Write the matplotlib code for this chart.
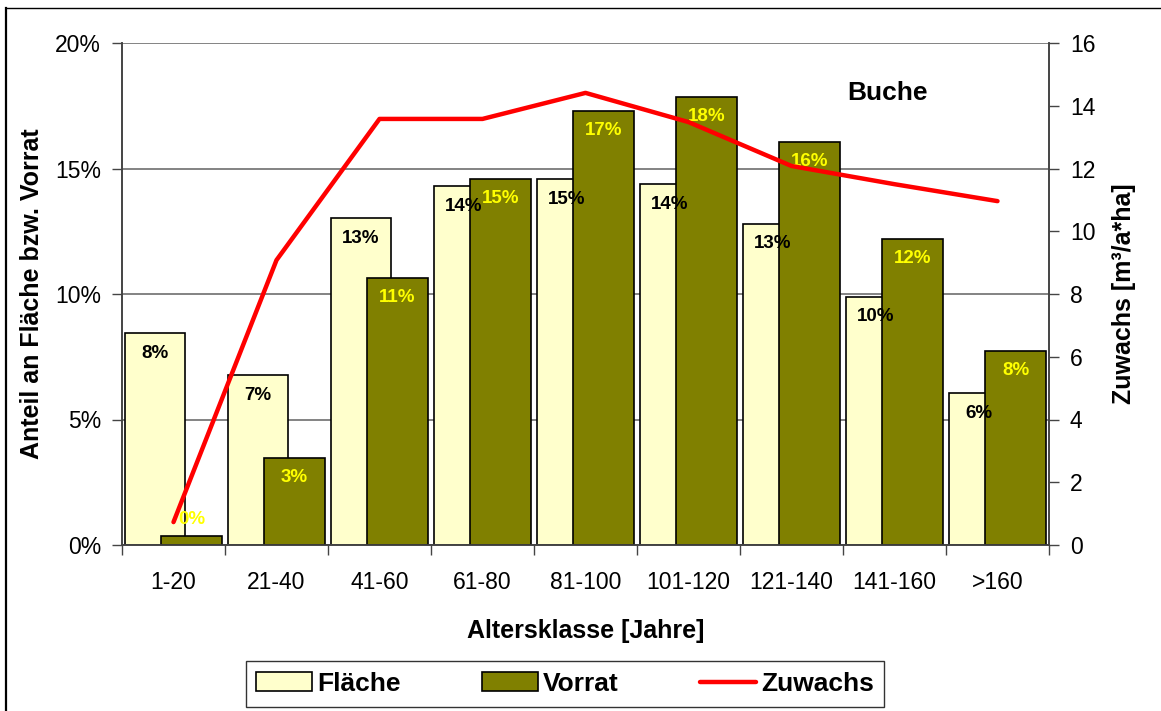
import matplotlib
matplotlib.use("Agg")
import matplotlib.pyplot as plt
import matplotlib.ticker as mticker
from matplotlib.lines import Line2D
import numpy as np

plt.rcParams["font.family"] = ["Liberation Sans", "DejaVu Sans"]

# ── Data ────────────────────────────────────────────────────────────────────
klassen = ["1-20", "21-40", "41-60", "61-80", "81-100",
           "101-120", "121-140", "141-160", ">160"]
flaeche = [8.45, 6.77, 13.03, 14.3, 14.58, 14.38, 12.8, 9.9, 6.06]      # %
vorrat = [0.36, 3.45, 10.64, 14.58, 17.29, 17.85, 16.06, 12.2, 7.73]    # %
zuwachs = [0.73, 9.08, 13.58, 13.58, 14.41, 13.48, 12.08, 11.5, 10.96]  # m3/a*ha

C_FL = "#FFFFCC"
C_VO = "#808000"
C_ZU = "#FF0000"

# ── Figure ──────────────────────────────────────────────────────────────────
W, H = 1161, 711
fig = plt.figure(figsize=(W / 100, H / 100), dpi=100)
ax = fig.add_axes([122 / W, (H - 545) / H, 927 / W, 502 / H])
ax2 = ax.twinx()

x = np.arange(len(klassen))
bw = 0.585
b1 = ax.bar(x - 0.18, flaeche, bw, color=C_FL, edgecolor="black", linewidth=1.2, zorder=2)
b2 = ax.bar(x + 0.175, vorrat, bw, color=C_VO, edgecolor="black", linewidth=1.2, zorder=3)

for xi, v in zip(x - 0.18, flaeche):
    ax.annotate(f"{v:.0f}%", (xi, v), xytext=(0, -14.5), textcoords="offset points",
                ha="center", va="center", fontsize=13.5, fontweight="bold", color="black", zorder=5)
for xi, v in zip(x + 0.175, vorrat):
    dy = 11.5 if v < 1 else -14
    ax.annotate(f"{v:.0f}%", (xi, v), xytext=(0, dy), textcoords="offset points",
                ha="center", va="center", fontsize=13.5, fontweight="bold", color="#FFFF00", zorder=5)

ax2.plot(x, zuwachs, color=C_ZU, linewidth=3.2, solid_capstyle="round", zorder=6)

# ── Axes styling ────────────────────────────────────────────────────────────
ax.set_xlim(-0.5, len(klassen) - 0.5)
ax.set_ylim(0, 20)
ax2.set_ylim(0, 16)
ax.yaxis.set_major_locator(mticker.MultipleLocator(5))
ax.yaxis.set_major_formatter(mticker.FuncFormatter(lambda v, _: f"{v:.0f}%"))
ax2.yaxis.set_major_locator(mticker.MultipleLocator(2))

ax.set_xticks(np.arange(-0.5, len(klassen), 1.0))
ax.set_xticklabels([])
ax.set_xticks(x, minor=True)
ax.set_xticklabels(klassen, minor=True, fontsize=16.5)
ax.tick_params(axis="x", which="minor", length=0, pad=19)
ax.tick_params(axis="x", which="major", length=7, width=1, color="#444444", direction="out")
ax.tick_params(axis="y", labelsize=16.5, length=7, width=1, color="#444444", pad=8)
ax2.tick_params(axis="y", labelsize=16.5, length=7, width=1, color="#444444", pad=8)

ax.grid(axis="y", color="#6e6e6e", linewidth=1.2, zorder=0)
ax.set_axisbelow(True)
for a in (ax, ax2):
    for s in ("left", "right", "bottom"):
        a.spines[s].set_color("#444444")
        a.spines[s].set_linewidth(1.2)
    a.spines["top"].set_visible(False)
ax2.patch.set_visible(False)

ax.set_xlabel("Altersklasse [Jahre]", fontsize=18, fontweight="bold", labelpad=18)
ax.set_ylabel("Anteil an Fläche bzw. Vorrat", fontsize=18, fontweight="bold", labelpad=8)
ax2.set_ylabel("Zuwachs [m³/a*ha]", fontsize=18, fontweight="bold", labelpad=12)

ax.text(0.826, 0.90, "Buche", transform=ax.transAxes, ha="center", va="center",
        fontsize=19, fontweight="bold")

# ── Legend ──────────────────────────────────────────────────────────────────
handles = [b1, b2, Line2D([], [], color=C_ZU, linewidth=3.2, solid_capstyle="round")]
leg = fig.legend(handles, ["Fläche", "Vorrat", "Zuwachs"], ncol=3,
                 loc="center", bbox_to_anchor=(565 / W, (H - 684) / H),
                 prop={"size": 19, "weight": "bold"}, frameon=True, fancybox=False,
                 edgecolor="black", handlelength=2.1, handleheight=0.75,
                 handletextpad=0.2, columnspacing=3.1, borderpad=0.4)
leg.get_frame().set_linewidth(1.0)

# chart-area frame (cut at the top/right edges like the source)
fig.add_artist(Line2D([6 / W, 6 / W], [0, (H - 8) / H], color="black", linewidth=1.6,
                      transform=fig.transFigure))
fig.add_artist(Line2D([6 / W, 1], [(H - 8) / H, (H - 8) / H], color="black", linewidth=1.0,
                      transform=fig.transFigure))

fig.savefig("out.png", dpi=100)
